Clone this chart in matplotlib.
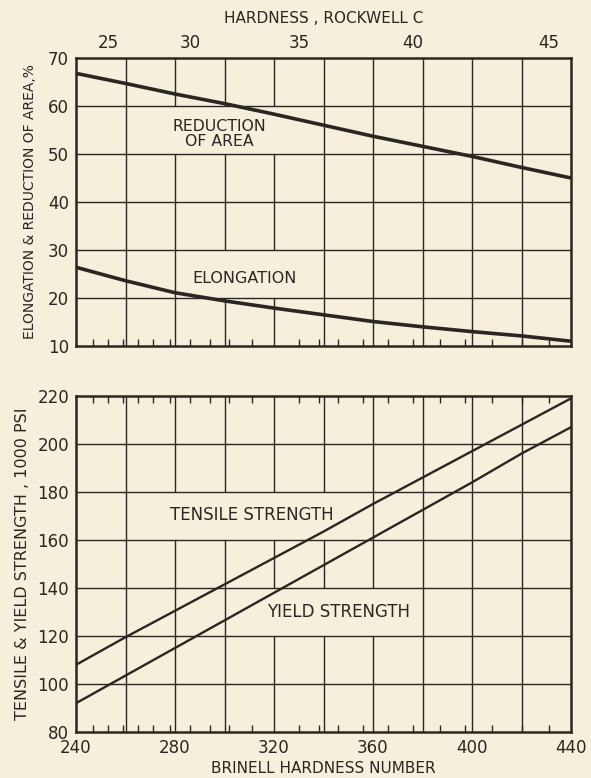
import matplotlib
matplotlib.use("Agg")
import matplotlib.pyplot as plt
from matplotlib.patches import Rectangle

# Brinell hardness at the grid lines
brinell = [240, 260, 280, 300, 320, 340, 360, 380, 400, 420, 440]
brinell_labels = [240, 280, 320, 360, 400, 440]

# top panel, percent
reduction_of_area = [66.8, 64.7, 62.5, 60.5, 58.3, 56.0, 53.7, 51.6, 49.5, 47.2, 45.0]
elongation = [26.4, 23.6, 21.1, 19.4, 17.9, 16.5, 15.1, 14.0, 13.0, 12.1, 11.0]

# bottom panel, 1000 psi
tensile = [108, 119.5, 130.5, 141.5, 152.5, 163.5, 175, 186, 197, 208, 219]
yield_str = [92, 103.5, 115, 126.5, 138, 149.5, 161, 172.5, 184, 196, 207]

# Rockwell C scale (HRC -> Brinell)
rockwell_c = [24, 25, 26, 27, 28, 29, 30, 31, 32, 33, 34, 35,
              36, 37, 38, 39, 40, 41, 42, 43, 44, 45]
rockwell_hb = [247, 253, 259, 265, 271, 278, 286, 294, 302, 311, 320, 330,
               338, 346, 356, 366, 376, 387, 397, 408, 420, 431]
rockwell_labels = [25, 30, 35, 40, 45]

BG = "#f5efdc"
INK = "#2b2622"
FONT = "DejaVu Sans"
plt.rcParams["font.family"] = FONT

fig = plt.figure(figsize=(5.91, 7.78), dpi=100)
fig.patch.set_facecolor(BG)

ax_top = fig.add_axes([76 / 591, 1 - 346 / 778, 495 / 591, 288 / 778])
ax_bot = fig.add_axes([76 / 591, 1 - 732 / 778, 495 / 591, 336 / 778])


def style(ax, yticks):
    ax.set_facecolor(BG)
    ax.set_xlim(240, 440)
    ax.set_ylim(yticks[0], yticks[-1])
    ax.set_xticks(brinell_labels)
    ax.set_yticks(yticks)
    ax.set_xticks(rockwell_hb, minor=True)
    # grid by hand: verticals under the label patches, horizontals over them
    for x in brinell[1:-1]:
        ax.axvline(x, color=INK, lw=1.0, zorder=1)
    for y in yticks[1:-1]:
        ax.axhline(y, color=INK, lw=1.0, zorder=3)
    ax.tick_params(which="major", length=0, labelsize=12, colors=INK, pad=5)
    ax.tick_params(which="minor", direction="in", length=5, width=1.0,
                   top=True, bottom=True, color=INK)
    for s in ax.spines.values():
        s.set_color(INK)
        s.set_linewidth(1.8)
        s.set_zorder(5)


style(ax_top, [10, 20, 30, 40, 50, 60, 70])
style(ax_bot, [80, 100, 120, 140, 160, 180, 200, 220])
ax_top.tick_params(labelbottom=False)

ax_top.plot(brinell, reduction_of_area, color=INK, lw=2.6, zorder=4,
            solid_capstyle="butt")
ax_top.plot(brinell, elongation, color=INK, lw=2.6, zorder=4,
            solid_capstyle="butt")
ax_bot.plot(brinell, tensile, color=INK, lw=1.7, zorder=4)
ax_bot.plot(brinell, yield_str, color=INK, lw=1.7, zorder=4)


def label(ax, x, y, s, size, cell):
    # blank out the grid cell the lettering sits in
    x0, x1, y0, y1 = cell
    ax.add_patch(Rectangle((x0, y0), x1 - x0, y1 - y0, facecolor=BG,
                           edgecolor="none", zorder=2))
    ax.text(x, y, s, ha="center", va="center", fontsize=size, color=INK,
            linespacing=1.0, zorder=2.5)


label(ax_top, 298, 54.2, "REDUCTION\nOF AREA", 11.3, (272, 323, 50, 60))
label(ax_top, 308, 24.0, "ELONGATION", 11.5, (284, 335, 20, 30))
label(ax_bot, 311, 170.5, "TENSILE STRENGTH", 12, (265, 355, 160, 180))
label(ax_bot, 346, 130, "YIELD STRENGTH", 12, (315, 377, 120, 140))

ax_top.set_ylabel("ELONGATION & REDUCTION OF AREA,%", fontsize=10,
                  color=INK, labelpad=8)
ax_bot.set_ylabel("TENSILE & YIELD STRENGTH , 1000 PSI", fontsize=11.5,
                  color=INK, labelpad=5)
ax_bot.set_xlabel("BRINELL HARDNESS NUMBER", fontsize=11, color=INK,
                  labelpad=3)

# Rockwell C labels across the top
ax_rc = ax_top.twiny()
ax_rc.set_xlim(240, 440)
ax_rc.set_xticks([rockwell_hb[rockwell_c.index(c)] for c in rockwell_labels])
ax_rc.set_xticklabels([str(c) for c in rockwell_labels])
ax_rc.tick_params(length=0, labelsize=12, colors=INK, pad=4)
for s in ax_rc.spines.values():
    s.set_visible(False)
ax_rc.set_xlabel("HARDNESS , ROCKWELL C", fontsize=11, color=INK, labelpad=8)

fig.savefig("out.png", dpi=100, facecolor=BG)
